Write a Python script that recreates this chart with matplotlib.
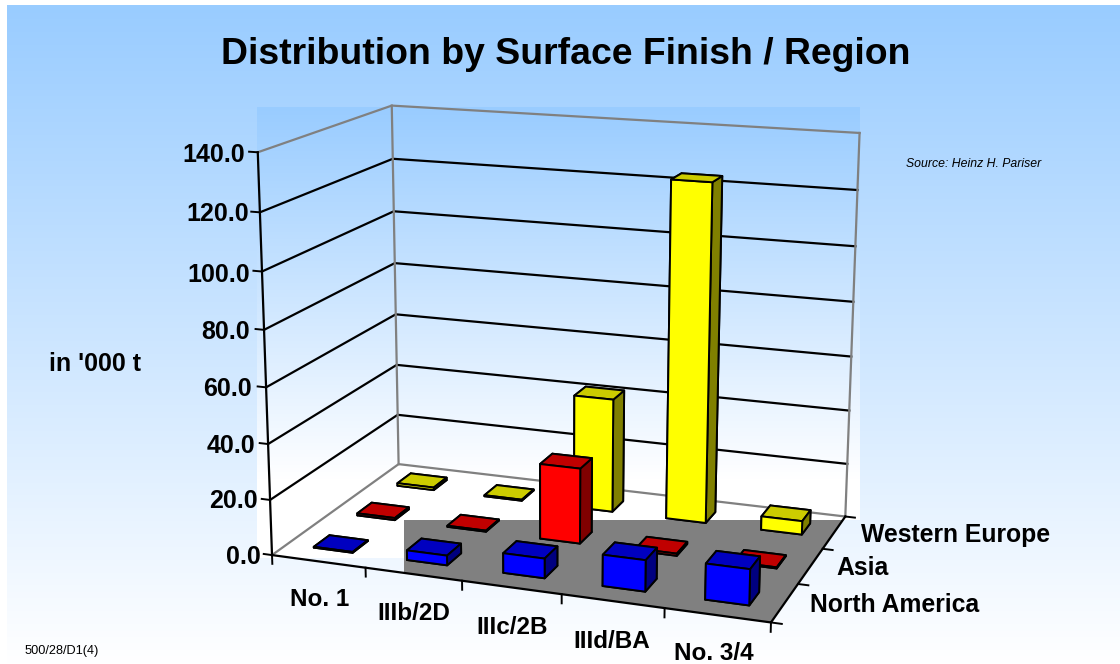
import matplotlib
matplotlib.use('Agg')
import matplotlib.pyplot as plt
import numpy as np
from matplotlib.transforms import Bbox
from mpl_toolkits.mplot3d.art3d import Poly3DCollection

plt.rcParams['font.family'] = ['Liberation Sans', 'DejaVu Sans']

categories = ['No. 1', 'IIIb/2D', 'IIIc/2B', 'IIId/BA', 'No. 3/4']
regions = ['North America', 'Asia', 'Western Europe']
north_america = [0.3, 3.5, 7.0, 11.0, 12.5]
asia = [0.8, 0.4, 27.5, 0.8, 0.4]
western_europe = [1.0, 0.4, 42.5, 124.0, 5.0]
z_ticks = [0, 20, 40, 60, 80, 100, 120, 140]

# label anchors in pixels from the top left
z_label_pos = [(261, 555), (258, 499), (255, 444), (252, 387), (250, 330), (250, 273), (249, 212), (245, 153)]
cat_label_pos = [(320, 597), (414, 611), (512, 625), (612, 639), (714, 652)]
region_label_pos = [(810, 603), (836, 566), (861, 533)]

W, H = 1120, 664
fig = plt.figure(figsize=(W/100, H/100), dpi=100, facecolor='white')

def px_text(x, y, s, **kw):
    fig.text(x/W, 1-(y+2)/H, s, va='center', **kw)

# camera and box shape
size, cx, cy = 702.38, 556.89, 310.91
ax = fig.add_axes([(cx-size/2)/W, (cy-size/2)/H, size/W, size/H], projection='3d')
ax.set_axis_off()
ax.patch.set_alpha(0)
ax.computed_zorder = False
ax.view_init(15.006, -70.258, -0.111)
ax.set_proj_type('persp', focal_length=0.5716)
ax.set_box_aspect((1.2603, 0.7606, 1))

# page gradient, the plot panel with its own gradient, white notch under it on the left
bg = fig.add_axes([0, 0, 1, 1], zorder=-1)
grad = np.linspace(0, 1, 256)[:, None, None]
top = np.array([0.6, 0.8, 1.0])[None, None, :]
img = top*(1-grad) + grad
bg.imshow(img, extent=(7, W, H, 5), aspect='auto')
bg.imshow(img, extent=(257, 860, 480, 107), aspect='auto')
bg.fill_between([257, 860], 480, 520, color='white', lw=0)
bg.fill_between([257, 404], 520, 558, color='white', lw=0)
bg.set_xlim(0, W)
bg.set_ylim(H, 0)
bg.axis('off')

floor = [[(0, 0, 0), (5, 0, 0), (5, 3, 0), (0, 3, 0)]]
white = Poly3DCollection(floor, facecolors='white', edgecolors='none', zorder=2)
ax.add_collection3d(white)
white.set_clip_box(Bbox([[257, H-558], [860, H]]))
gray = Poly3DCollection(floor, facecolors='#808080', edgecolors='none', zorder=3)
ax.add_collection3d(gray)
gray.set_clip_box(Bbox([[404, 0], [W, H-520]]))

# walls
for z in z_ticks[:-1]:
    ax.plot([0, 0, 5], [0, 3, 3], [z, z, z], color='k' if z else '#808080', lw=1.6, zorder=4)
ax.plot([0, 0, 5], [0, 3, 3], [140, 140, 140], color='#808080', lw=1.6, zorder=4)
ax.plot([0, 0], [3, 3], [0, 140], color='#808080', lw=1.6, zorder=4)
ax.plot([5, 5], [3, 3], [0, 140], color='#808080', lw=1.6, zorder=4)

# axes and ticks
ax.plot([0, 0], [0, 0], [0, 140], color='k', lw=1.6, zorder=5)
ax.plot([0, 5, 5], [0, 0, 3], [0, 0, 0], color='k', lw=1.6, zorder=5)
for z in z_ticks:
    ax.plot([0, -0.09], [0, 0], [z, z], color='k', lw=1.4, zorder=5)
for i in range(6):
    ax.plot([i, i], [0, 0], [0, -3.2], color='k', lw=1.4, zorder=5)
for i in range(4):
    ax.plot([5, 5.1], [i, i], [0, 0], color='k', lw=1.4, zorder=5)

width, depth = 0.42, 0.35
faces = {
    0: ['#0000FF', '#0000C0', '#0000FF', '#0000FF', '#000080', '#000080'],
    1: ['#FF0000', '#C00000', '#FF0000', '#FF0000', '#800000', '#800000'],
    2: ['#FFFF00', '#CCCC00', '#FFFF00', '#FFFF00', '#808000', '#808000'],
}
rows = [north_america, asia, western_europe]
order = 10
for r in (2, 1, 0):
    for c, v in enumerate(rows[r]):
        ax.bar3d(c+0.5-width/2, r+0.5-depth/2, 0, width, depth, v, color=faces[r],
                 shade=False, edgecolor='k', linewidth=1.4, zorder=order)
        order += 1

ax.set_xlim(0, 5, view_margin=0)
ax.set_ylim(0, 3, view_margin=0)
ax.set_zlim(0, 140, view_margin=0)

for z, (x, y) in zip(z_ticks, z_label_pos):
    px_text(x, y, '%.1f' % z, ha='right', fontsize=18, fontweight='bold')
for name, (x, y) in zip(categories, cat_label_pos):
    px_text(x, y, name, ha='center', fontsize=17.5, fontweight='bold')
for name, (x, y) in zip(regions, region_label_pos):
    px_text(x, y, name, ha='left', fontsize=17.8, fontweight='bold')

px_text(566, 53, 'Distribution by Surface Finish / Region', ha='center', fontsize=26.9, fontweight='bold')
px_text(95, 362, "in '000 t", ha='center', fontsize=18, fontweight='bold')
px_text(1041, 162, 'Source: Heinz H. Pariser', ha='right', fontsize=8.8, style='italic')
px_text(25, 649, '500/28/D1(4)', ha='left', fontsize=9.2)
fig.savefig('out.png', dpi=100)
